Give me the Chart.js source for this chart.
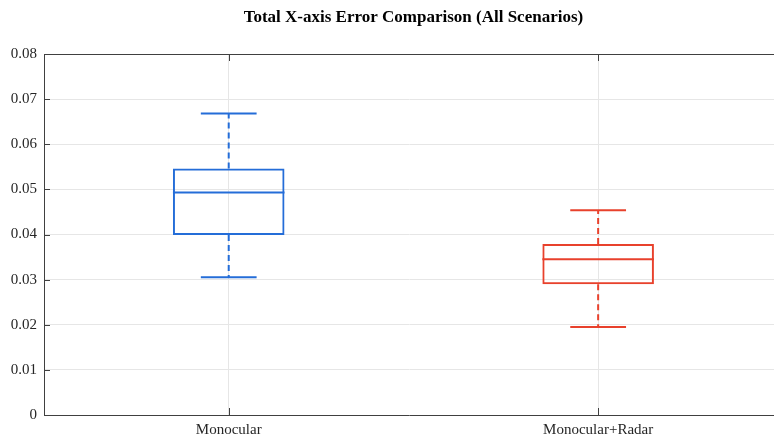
<!DOCTYPE html>
<html>
<head>
<meta charset="utf-8">
<script src="https://cdn.jsdelivr.net/npm/chart.js@4.4.0/dist/chart.umd.min.js"></script>
<style>
  body { margin: 0; background: #fff; overflow: hidden; }
  #wrap { width: 774px; height: 438px; }
</style>
</head>
<body>
<div id="wrap"><canvas id="box-chart"></canvas></div>
<script>
// Data
var categories = ['Monocular', 'Monocular+Radar'];
var mins    = [0.0305, 0.0195];
var q1s     = [0.0399, 0.0290];
var medians = [0.0493, 0.0345];
var q3s     = [0.0546, 0.0379];
var maxs    = [0.0668, 0.0454];
var yTicks  = [0, 0.01, 0.02, 0.03, 0.04, 0.05, 0.06, 0.07, 0.08];
var colors  = ['#246dd8', '#e8412c'];
var titleText = 'Total X-axis Error Comparison (All Scenarios)';

var axisColor = '#404040';
var gridColor = '#e6e6e6';

// whiskers, caps, medians, top border, inner ticks, title
var boxExtras = {
  id: 'boxExtras',
  afterDatasetsDraw: function(chart) {
    var ctx = chart.ctx;
    var xs = chart.scales.x;
    var ys = chart.scales.y;
    var area = chart.chartArea;

    for (var i = 0; i < categories.length; i++) {
      var bar = chart.getDatasetMeta(i).data[0];
      var cx = xs.getPixelForValue(i + 1);
      var half = bar.width / 2;
      ctx.save();
      ctx.strokeStyle = colors[i];
      ctx.lineWidth = 2;

      // median
      ctx.beginPath();
      ctx.moveTo(cx - half, ys.getPixelForValue(medians[i]));
      ctx.lineTo(cx + half, ys.getPixelForValue(medians[i]));
      ctx.stroke();

      // caps
      ctx.beginPath();
      ctx.moveTo(cx - half / 2, ys.getPixelForValue(maxs[i]));
      ctx.lineTo(cx + half / 2, ys.getPixelForValue(maxs[i]));
      ctx.moveTo(cx - half / 2, ys.getPixelForValue(mins[i]));
      ctx.lineTo(cx + half / 2, ys.getPixelForValue(mins[i]));
      ctx.stroke();

      // dashed whiskers
      ctx.setLineDash([6, 4]);
      ctx.beginPath();
      ctx.moveTo(cx, ys.getPixelForValue(q3s[i]));
      ctx.lineTo(cx, ys.getPixelForValue(maxs[i]));
      ctx.moveTo(cx, ys.getPixelForValue(q1s[i]));
      ctx.lineTo(cx, ys.getPixelForValue(mins[i]));
      ctx.stroke();
      ctx.restore();
    }

    ctx.save();
    ctx.strokeStyle = axisColor;
    ctx.lineWidth = 1;
    ctx.beginPath();
    // top border
    ctx.moveTo(area.left, Math.round(area.top) + 0.5);
    ctx.lineTo(area.right, Math.round(area.top) + 0.5);
    // inner tick marks
    ys.ticks.forEach(function(t) {
      var y = Math.round(ys.getPixelForValue(t.value)) + 0.5;
      ctx.moveTo(area.left, y);
      ctx.lineTo(area.left + 6, y);
    });
    xs.ticks.forEach(function(t) {
      var x = Math.round(xs.getPixelForValue(t.value)) + 0.5;
      ctx.moveTo(x, area.bottom);
      ctx.lineTo(x, area.bottom - 7);
      ctx.moveTo(x, area.top);
      ctx.lineTo(x, area.top + 7);
    });
    ctx.stroke();

    // title centred over the axes
    ctx.fillStyle = '#000';
    ctx.font = 'bold 17px "Liberation Serif"';
    ctx.textAlign = 'center';
    ctx.textBaseline = 'middle';
    ctx.fillText(titleText, xs.getPixelForValue(1.5), 18);
    ctx.restore();
  }
};

var datasets = categories.map(function(name, i) {
  return {
    label: name,
    data: [{ x: i + 1, y: [q1s[i], q3s[i]] }],
    backgroundColor: 'rgba(0,0,0,0)',
    borderColor: colors[i],
    borderWidth: 2,
    borderSkipped: false,
    grouped: false,
    barPercentage: 0.302,
    categoryPercentage: 1
  };
});

var ctx = document.getElementById('box-chart').getContext('2d');
var chart = new Chart(ctx, {
  type: 'bar',
  data: { datasets: datasets },
  options: {
    responsive: true,
    maintainAspectRatio: false,
    animation: false,
    layout: { padding: { top: 54, right: 0, bottom: 0, left: 0 } },
    plugins: {
      legend: { display: false },
      tooltip: { enabled: false },
      title: { display: false }
    },
    scales: {
      x: {
        type: 'linear',
        min: 0.5,
        max: 2.476,
        offset: false,
        afterBuildTicks: function(scale) {
          scale.ticks = categories.map(function(c, i) { return { value: i + 1 }; });
        },
        afterFit: function(scale) { scale.height = 23; },
        grid: { color: gridColor, drawTicks: false, offset: false },
        border: { color: axisColor, width: 1 },
        ticks: {
          padding: 6,
          color: '#262626',
          font: { family: 'Liberation Serif', size: 15 },
          maxRotation: 0,
          callback: function(v) { return categories[v - 1]; }
        }
      },
      y: {
        min: 0,
        max: 0.08,
        afterBuildTicks: function(scale) {
          scale.ticks = yTicks.map(function(v) { return { value: v }; });
        },
        afterFit: function(scale) { scale.width = 44; },
        grid: { color: gridColor, drawTicks: false },
        border: { color: axisColor, width: 1 },
        ticks: {
          padding: 7,
          color: '#262626',
          font: { family: 'Liberation Serif', size: 15 },
          callback: function(v) { return v === 0 ? '0' : v.toFixed(2); }
        }
      }
    }
  },
  plugins: [boxExtras]
});
</script>
</body>
</html>
